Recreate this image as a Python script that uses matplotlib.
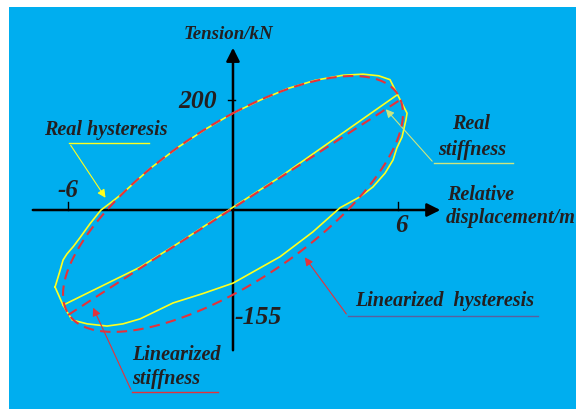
import numpy as np
import matplotlib.pyplot as plt

# real hysteresis loop, displacement (m) vs tension (kN)
real_x = [-6.47, -6.30, -6.18, -6.04, -5.80, -5.56, -5.20, -4.80, -4.40, -4.00, -3.00,
          -2.00, -1.00, 0.00, 1.00, 2.00, 3.00, 4.00, 4.73, 5.30, 5.71, 5.96,
          6.33, 6.29, 6.15, 5.96, 5.82, 5.53, 5.09, 4.62, 3.89, 2.90, 1.71,
          0.00, -1.10, -2.18, -3.38, -4.00, -4.58, -5.30, -5.85, -6.18, -6.47]
real_y = [-140, -112, -91, -80, -66, -50, -25, 0, 15, 31, 76,
          114, 147, 176, 200, 221, 236, 245, 247, 244, 237, 212,
          176, 164, 133, 113, 91, 67, 42, 24, 4, -40, -85,
          -133, -152, -169, -198, -207, -211, -207, -200, -173, -140]

# real stiffness line
real_k_x = [-6.18, -3.38, -1.82, 0.0, 1.71, 5.96]
real_k_y = [-173, -104, -55, 5, 60, 209]

# linearized stiffness line
lin_k_x = [-6.0, 6.07]
lin_k_y = [-191, 200]

# linearized hysteresis ellipse: x = X sin t, F = Fk sin t + Fc cos t + F0
X_amp = 6.18
F_k = 164
F_c = 165
F_0 = 11

x_ticks = [-6, 6]
x_tick_labels = ['-6', '6']
y_ticks = [200, -191]
y_tick_labels = ['200', '-155']

blue = '#00AEEF'
ink = '#231F20'
yellow = '#FFFF1E'
red = '#E5323A'

fig = plt.figure(figsize=(5.76, 4.09), dpi=100, facecolor='white')
ax = fig.add_axes([9/576, 0, 567/576, 402/409])
ax.set_facecolor(blue)
ax.set_xlim(-8.145, 12.473)
ax.set_ylim(-361.8, 369.1)
ax.axis('off')
ax.add_patch(plt.Rectangle((0, 0), 1, 1, transform=ax.transAxes, color=blue, zorder=0))

font = dict(family='Liberation Serif', weight='bold', style='italic', color=ink)
lab = 14.5

# axes with arrows
ax.annotate('', xy=(7.64, 0), xytext=(-7.38, 0),
            arrowprops=dict(arrowstyle='-|>', color='black', lw=1.8, mutation_scale=20))
ax.annotate('', xy=(0, 300), xytext=(0, -260),
            arrowprops=dict(arrowstyle='-|>', color='black', lw=1.8, mutation_scale=20))

for xt in x_ticks:
    ax.plot([xt, xt], [0, 15], color='black', lw=1.0)
ax.plot([-0.18, 0.07], [y_ticks[0], y_ticks[0]], color='black', lw=1.0)

ax.text(-6.0, 36, x_tick_labels[0], ha='center', va='center', fontsize=18, **font)
ax.text(6.11, -29, x_tick_labels[1], ha='center', va='center', fontsize=18, **font)
ax.text(-0.58, 198, y_tick_labels[0], ha='right', va='center', fontsize=18.5, **font)
ax.text(0.07, -196, y_tick_labels[1], ha='left', va='center', fontsize=18.5, **font)

ax.text(-0.18, 320, 'Tension/kN', ha='center', va='center', fontsize=13.6, **font)
ax.text(7.78, 27, 'Relative', ha='left', va='center', fontsize=lab, **font)
ax.text(7.75, -15, 'displacement/m', ha='left', va='center', fontsize=lab, **font)

# curves (red dashes drawn over the yellow ones)
t = np.linspace(0, 2 * np.pi, 400)
ell_x = X_amp * np.sin(t)
ell_y = F_k * np.sin(t) + F_c * np.cos(t) + F_0
ax.plot(real_x, real_y, color=yellow, lw=1.2, zorder=3)
ax.plot(real_k_x, real_k_y, color=yellow, lw=1.2, zorder=3)
ax.plot(ell_x, ell_y, color=red, lw=1.5, dashes=(5, 3), zorder=4)
ax.plot(lin_k_x, lin_k_y, color=red, lw=1.5, dashes=(5, 3), zorder=4)

# labels with leader lines
def leader(under, tip, color, under_color=None):
    ax.plot(under[0], under[1], color=under_color or color, lw=1.0)
    ax.annotate('', xy=tip, xytext=(under[0][0], under[1][0]),
                arrowprops=dict(arrowstyle='-|>', color=color, lw=0.8, mutation_scale=12))

ax.text(-4.62, 145, 'Real hysteresis', ha='center', va='center', fontsize=lab, **font)
leader(([-5.96, -3.05], [122, 122]), (-4.58, 18), yellow)

ax.text(8.65, 156, 'Real', ha='center', va='center', fontsize=lab, **font)
ax.text(8.69, 109, 'stiffness', ha='center', va='center', fontsize=lab, **font)
leader(([7.31, 10.18], [85, 85]), (5.49, 187), '#CDE67F')

ax.text(4.44, -165, 'Linearized  hysteresis', ha='left', va='center', fontsize=lab, **font)
leader(([4.18, 11.09], [-193, -193]), (2.55, -82), red, '#5A5F9E')

ax.text(-3.67, -264, 'Linearized', ha='left', va='center', fontsize=lab, **font)
ax.text(-3.67, -307, 'stiffness', ha='left', va='center', fontsize=lab, **font)
leader(([-3.67, -0.55], [-331, -331]), (-5.13, -173), red)

fig.savefig('out.png', dpi=100, facecolor='white')
